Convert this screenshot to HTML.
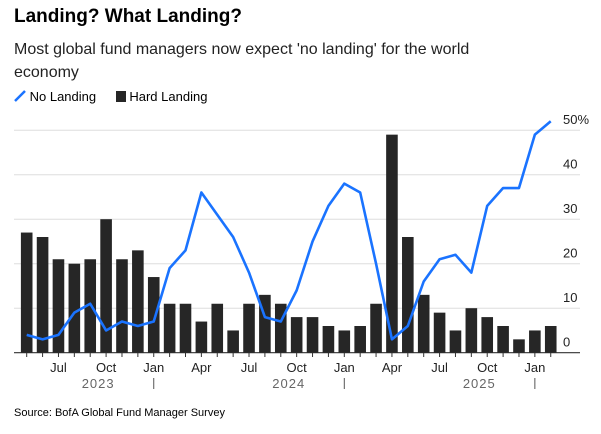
<!DOCTYPE html>
<html><head><meta charset="utf-8"><style>
body{margin:0;width:601px;height:434px;background:#fff;font-family:"Liberation Sans",sans-serif;overflow:hidden;position:relative}
.t{position:absolute;left:14px;white-space:nowrap}
</style></head><body>
<div class="t" style="top:6px;font-size:19px;font-weight:bold;color:#000">Landing? What Landing?</div>
<div class="t" style="top:38px;font-size:16px;line-height:23px;color:#222">Most global fund managers now expect 'no landing' for the world<br>economy</div>
<div style="position:absolute;left:14px;top:89px;font-size:13px;color:#000">
<span><svg width="12" height="12" style="vertical-align:-1px"><line x1="1" y1="11" x2="11" y2="1" stroke="#1a73ff" stroke-width="2.5"/></svg> No Landing</span>
<span style="margin-left:16px"><svg width="10" height="12" style="vertical-align:-1px"><rect x="0" y="1" width="10" height="11" fill="#262626"/></svg> Hard Landing</span>
</div>
<svg id="c" width="601" height="434" style="position:absolute;left:0;top:0"></svg>
<div class="t" style="top:407px;font-size:11px;color:#000">Source: BofA Global Fund Manager Survey</div>
<script>
const months=["May","Jun","Jul","Aug","Sep","Oct","Nov","Dec","Jan","Feb","Mar","Apr","May","Jun","Jul","Aug","Sep","Oct","Nov","Dec","Jan","Feb","Mar","Apr","May","Jun","Jul","Aug","Sep","Oct","Nov","Dec","Jan","Feb"];
const hardLanding=[27,26,21,20,21,30,21,23,17,11,11,7,11,5,11,13,11,8,8,6,5,6,11,49,26,13,9,5,10,8,6,3,5,6];
const noLanding=[4,3,4,9,11,5,7,6,7,19,23,36,31,26,18,8,7,14,25,33,38,36,20,3,6,16,21,22,18,33,37,37,49,52];
const yTicks=[0,10,20,30,40,50];
const yearLabels=[["2023",4.5],["2024",16.5],["2025",28.5]];
const yearBreaks=[8,20,32];
const NS="http://www.w3.org/2000/svg",svg=document.getElementById('c');
const x=i=>26.7+i*15.88, y=v=>352.7-v*4.45;
function mk(t,a){const e=document.createElementNS(NS,t);for(const k in a)e.setAttribute(k,a[k]);svg.appendChild(e);return e;}
yTicks.forEach(v=>{
 const g=mk('line',{x1:14,x2:580,y1:y(v),y2:y(v),stroke:v?'#ddd':'#333','stroke-width':v?1:1.2});
 
 
 const t=mk('text',{x:563,y:y(v)-6,'font-size':13,fill:'#222','font-family':'Liberation Sans'});
 t.textContent=v+(v===50?'%':'');
 
 
});
hardLanding.forEach((v,i)=>{
 const r=mk('rect',{x:x(i)-5.8,y:y(v),width:11.6,height:y(0)-y(v),fill:'#262626'});
 
 
});
months.forEach((m,i)=>{
 const k=mk('line',{x1:x(i),x2:x(i),y1:353,y2:357,stroke:'#333'});
 
 
 if(["Jan","Apr","Jul","Oct"].includes(m)){
  const t=mk('text',{x:x(i),y:372,'font-size':13,fill:'#222','text-anchor':'middle','font-family':'Liberation Sans'});
  t.textContent=m;
  
  
 }
});
yearBreaks.forEach(i=>{
 const l=mk('line',{x1:x(i),x2:x(i),y1:378,y2:389,stroke:'#555'});
 
 
});
yearLabels.forEach(([s,i])=>{
 const t=mk('text',{x:x(i),y:388,'font-size':13,fill:'#666','text-anchor':'middle','font-family':'Liberation Sans','letter-spacing':'1'});
 t.textContent=s;
 
 
});
const p=mk('polyline',{points:noLanding.map((v,i)=>x(i)+','+y(v)).join(' '),fill:'none',stroke:'#1a73ff','stroke-width':2.6,'stroke-linejoin':'round'});


</script>
</body></html>
